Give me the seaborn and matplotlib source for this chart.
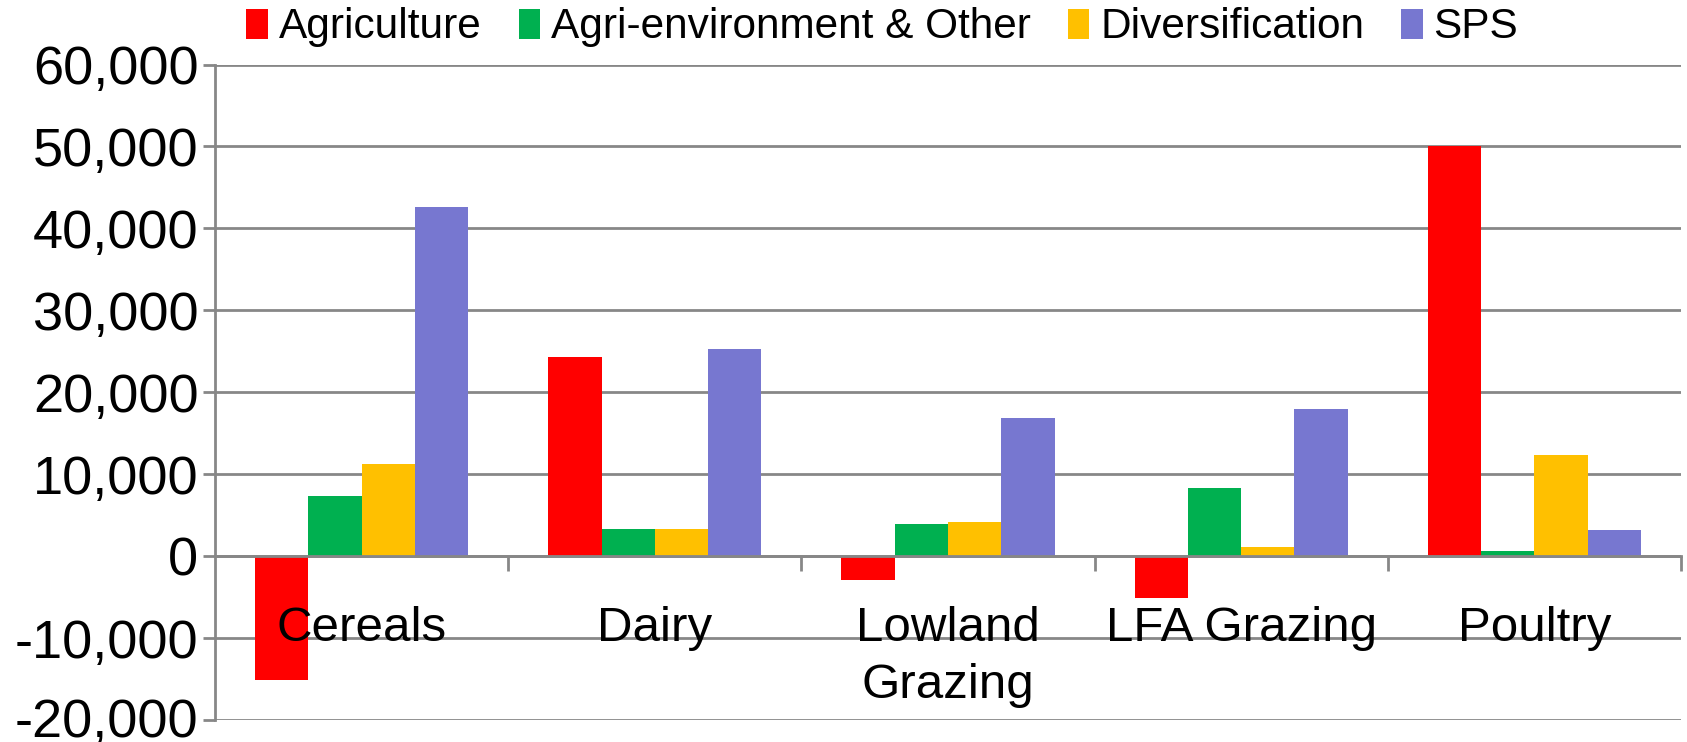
import matplotlib
matplotlib.use("Agg")
import matplotlib.pyplot as plt
import matplotlib.transforms as mtransforms
import seaborn as sns
import pandas as pd

categories = ["Cereals", "Dairy", "Lowland\nGrazing", "LFA Grazing", "Poultry"]
series = ["Agriculture", "Agri-environment & Other", "Diversification", "SPS"]
agriculture = [-15100, 24300, -2850, -5150, 50000]
agri_env = [7400, 3350, 3900, 8350, 650]
diversification = [11300, 3300, 4150, 1100, 12350]
sps = [42600, 25300, 16900, 18000, 3250]
colors = ["#FF0000", "#00B050", "#FFC000", "#7777D0"]
yticks = [-20000, -10000, 0, 10000, 20000, 30000, 40000, 50000, 60000]

rows = []
for name, vals in zip(series, [agriculture, agri_env, diversification, sps]):
    for c, v in zip(categories, vals):
        rows.append({"Category": c, "Series": name, "Value": v})
df = pd.DataFrame(rows)

sns.set_theme(style="white")
plt.rcParams["font.family"] = ["Liberation Sans", "DejaVu Sans"]
plt.rcParams["text.color"] = "black"
plt.rcParams["xtick.labelcolor"] = "black"
plt.rcParams["ytick.labelcolor"] = "black"

fig = plt.figure(figsize=(16.87, 7.42), dpi=100)
ax = fig.add_axes([0.1275, 0.0296, 0.9964 - 0.1275, 0.913 - 0.0296])

sns.barplot(data=df, x="Category", y="Value", hue="Series", order=categories,
            hue_order=series, palette=colors, width=0.727, linewidth=0,
            saturation=1, ax=ax, errorbar=None)

grid_c = "#878787"
ax.set_ylim(-20000, 60000)
ax.set_xlim(-0.5, 4.5)
ax.set_yticks(yticks)
ax.set_yticklabels([f"{t:,}" for t in yticks])
ax.yaxis.grid(True, color=grid_c, linewidth=2)
ax.xaxis.grid(False)
ax.set_axisbelow(True)
ax.xaxis.set_zorder(3)
ax.set_xlabel("")
ax.set_ylabel("")

for s in ["top", "right"]:
    ax.spines[s].set_visible(False)
ax.spines["left"].set_color(grid_c)
ax.spines["left"].set_linewidth(2)
ax.spines["bottom"].set_position(("data", 0))
ax.spines["bottom"].set_color(grid_c)
ax.spines["bottom"].set_linewidth(2)

ax.tick_params(axis="y", which="major", direction="out", length=9, width=2,
               color=grid_c, labelsize=39, pad=3, left=True, labelcolor="black")
ax.tick_params(axis="x", which="major", length=0, labelsize=35.5, pad=36,
               bottom=True, labelcolor="black")
ax.set_xticks(range(len(categories)))
ax.set_xticklabels(categories, va="top", linespacing=1.33)
ax.set_xticks([0.5, 1.5, 2.5, 3.5, 4.5], minor=True)
ax.tick_params(axis="x", which="minor", direction="out", length=11, width=2,
               color=grid_c, bottom=True)

# nudge the lowest y label up slightly so it stays inside the canvas
low = ax.get_yticklabels()[0]
low.set_transform(low.get_transform() +
                  mtransforms.ScaledTranslation(0, 3 / 100, fig.dpi_scale_trans))

handles, labels = ax.get_legend_handles_labels()
if ax.get_legend() is not None:
    ax.get_legend().remove()
fig.legend(handles, labels, loc="center", bbox_to_anchor=(0.523, 0.963), ncol=4,
           frameon=False, fontsize=30.5, handlelength=0.51, handleheight=0.72,
           handletextpad=0.25, columnspacing=0.88, borderaxespad=0,
           labelcolor="black")

fig.savefig("out.png", dpi=100)
